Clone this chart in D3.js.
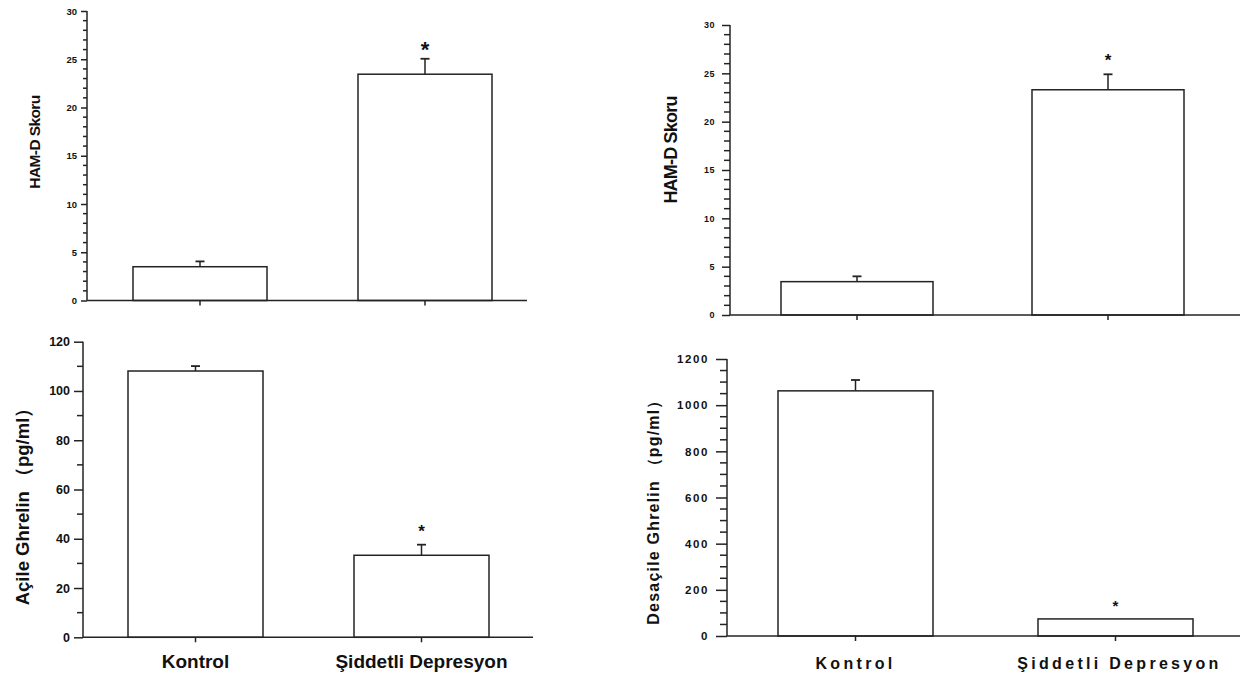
<!DOCTYPE html>
<html>
<head>
<meta charset="utf-8">
<script src="https://cdn.jsdelivr.net/npm/d3@7"></script>
<style>
  html, body { margin: 0; padding: 0; background: #fff; }
  svg { display: block; }
</style>
</head>
<body>
<svg id="chart" width="1244" height="679"></svg>
<script>
// ---------------- DATA ----------------
const categories = ["Kontrol", "Şiddetli Depresyon"];
const significance = ["", "*"];

const hamdLeftValues = [3.5, 23.45];
const hamdLeftErrors = [0.55, 1.6];

const hamdRightValues = [3.45, 23.3];
const hamdRightErrors = [0.55, 1.6];

const acileGhrelinValues = [108.1, 33.3];
const acileGhrelinErrors = [2.0, 4.3];

const desacileGhrelinValues = [1062, 74];
const desacileGhrelinErrors = [47, 0];

const hamdTicks = [0, 5, 10, 15, 20, 25, 30];
const acileTicks = [0, 20, 40, 60, 80, 100, 120];
const desacileTicks = [0, 200, 400, 600, 800, 1000, 1200];

const hamdLabel = "HAM-D Skoru";
const acileLabel = "Açile Ghrelin （pg/ml）";
const desacileLabel = "Desaçile Ghrelin （pg/ml）";

// ---------------- DRAW ----------------
const svg = d3.select("#chart");
const INK = "#232323";
const FONT = "'Liberation Sans', Arial, Helvetica, sans-serif";

function panel(cfg) {
  const g = svg.append("g");
  const yMax = cfg.ticks[cfg.ticks.length - 1];
  const y = d3.scaleLinear().domain([0, yMax]).range([cfg.y0, cfg.yTop]);
  const L = cfg.barEnd - cfg.barStart;
  const r = cfg.barW / L;
  const x = d3.scaleBand().domain(categories).range([cfg.barStart, cfg.barEnd])
    .paddingInner((1 - 2 * r) / (1 - r)).paddingOuter(0);

  // minor ticks (drawn from the scale)
  const nMinor = Math.round(yMax / cfg.minorStep);
  const minor = d3.range(0, nMinor + 1).map(k => k * cfg.minorStep)
    .filter(v => cfg.ticks.indexOf(v) < 0);
  const minorG = g.append("g").attr("class", "minor-ticks");
  minor.forEach(v => {
    minorG.append("path")
      .attr("d", `M${cfg.x0 - cfg.minorLen},${y(v)}H${cfg.x0}`)
      .attr("fill", "none")
      .attr("stroke", INK).attr("stroke-width", 1.5);
  });

  // major ticks + labels
  g.append("g").attr("transform", `translate(${cfg.x0},0)`)
    .call(d3.axisLeft(y).tickValues(cfg.ticks).tickSize(cfg.majorLen).tickPadding(cfg.tickPad).tickFormat(d3.format("d")))
    .call(s => s.select(".domain").remove())
    .call(s => s.selectAll("line").attr("stroke", INK).attr("stroke-width", 1.5))
    .call(s => s.selectAll("text").attr("fill", "#111").attr("font-family", FONT)
      .attr("font-weight", "bold").attr("font-size", cfg.tickFont)
      .style("letter-spacing", cfg.tickSpacing + "px"));

  // y axis line
  g.append("line").attr("x1", cfg.x0).attr("x2", cfg.x0)
    .attr("y1", y(yMax)).attr("y2", cfg.y0)
    .attr("stroke", INK).attr("stroke-width", 1.5);

  // x axis ticks
  g.append("g").attr("transform", `translate(0,${cfg.y0})`)
    .call(d3.axisBottom(x).tickSize(5).tickFormat(() => ""))
    .call(s => s.select(".domain").remove())
    .call(s => s.selectAll("line").attr("stroke", INK).attr("stroke-width", 1.5));

  // bars
  g.selectAll("rect.bar").data(cfg.values).join("rect")
    .attr("class", "bar")
    .attr("x", (d, i) => x(categories[i]))
    .attr("width", x.bandwidth())
    .attr("y", d => y(d))
    .attr("height", d => cfg.y0 - y(d))
    .attr("fill", "#fff").attr("stroke", INK).attr("stroke-width", 1.5);

  // error bars
  const cx = i => x(categories[i]) + x.bandwidth() / 2;
  cfg.values.forEach((v, i) => {
    const e = cfg.errors[i];
    if (!e) return;
    g.append("line").attr("x1", cx(i)).attr("x2", cx(i))
      .attr("y1", y(v)).attr("y2", y(v + e)).attr("stroke", INK).attr("stroke-width", 1.5);
    g.append("line").attr("x1", cx(i) - 4.5).attr("x2", cx(i) + 4.5)
      .attr("y1", y(v + e)).attr("y2", y(v + e)).attr("stroke", INK).attr("stroke-width", 1.8);
  });

  // significance stars
  cfg.values.forEach((v, i) => {
    if (!significance[i]) return;
    g.append("text").attr("x", cx(i)).attr("y", y(v + (cfg.errors[i] || 0)) - cfg.starGap)
      .attr("text-anchor", "middle").attr("font-family", FONT).attr("font-weight", "bold")
      .attr("font-size", cfg.starFont).attr("fill", "#111").text(significance[i]);
  });

  // x axis line
  g.append("line").attr("x1", cfg.x0).attr("x2", cfg.x1)
    .attr("y1", cfg.y0).attr("y2", cfg.y0)
    .attr("stroke", INK).attr("stroke-width", 1.5);

  // category labels
  if (cfg.showCats) {
    categories.forEach((c, i) => {
      g.append("text").attr("x", cx(i) + cfg.catShift * i).attr("y", cfg.y0 + cfg.catDy)
        .attr("text-anchor", "middle").attr("font-family", FONT).attr("font-weight", "bold")
        .attr("font-size", cfg.catFont).attr("fill", "#111")
        .style("letter-spacing", cfg.catSpacing + "px").text(c);
    });
  }

  // y label
  g.append("text")
    .attr("transform", `translate(${cfg.labelX},${cfg.labelY}) rotate(-90)`)
    .attr("text-anchor", "middle").attr("font-family", FONT).attr("font-weight", "bold")
    .attr("font-size", cfg.labelFont).attr("fill", "#111")
    .style("letter-spacing", cfg.labelSpacing + "px")
    .text(cfg.label);
}

panel({
  values: hamdLeftValues, errors: hamdLeftErrors, ticks: hamdTicks, minorStep: 1,
  x0: 87, x1: 527, yTop: 11, y0: 300.5, barStart: 133, barEnd: 492, barW: 134,
  majorLen: 6, minorLen: 4, tickPad: 4, tickFont: 9.5, tickSpacing: 0,
  starFont: 22, starGap: 2, showCats: false,
  label: hamdLabel, labelX: 40, labelY: 142, labelFont: 15.5, labelSpacing: -0.6
});

panel({
  values: hamdRightValues, errors: hamdRightErrors, ticks: hamdTicks, minorStep: 1,
  x0: 730, x1: 1240, yTop: 25, y0: 315, barStart: 781, barEnd: 1184, barW: 152,
  majorLen: 8, minorLen: 6, tickPad: 7, tickFont: 9, tickSpacing: 0.5,
  starFont: 17, starGap: 8, showCats: false,
  label: hamdLabel, labelX: 677, labelY: 150, labelFont: 18, labelSpacing: -0.8
});

panel({
  values: acileGhrelinValues, errors: acileGhrelinErrors, ticks: acileTicks, minorStep: 10,
  x0: 83, x1: 533, yTop: 341.7, y0: 637.3, barStart: 128, barEnd: 489, barW: 135,
  majorLen: 9, minorLen: 6, tickPad: 4, tickFont: 12.5, tickSpacing: 0,
  starFont: 17, starGap: 8, showCats: true, catFont: 19, catDy: 31, catSpacing: 0, catShift: 0,
  label: acileLabel, labelX: 29, labelY: 502, labelFont: 18.5, labelSpacing: 0
});

panel({
  values: desacileGhrelinValues, errors: desacileGhrelinErrors, ticks: desacileTicks, minorStep: 50,
  x0: 727, x1: 1240, yTop: 359, y0: 636, barStart: 778, barEnd: 1193, barW: 155,
  majorLen: 11, minorLen: 7, tickPad: 7, tickFont: 11.5, tickSpacing: 1.6,
  starFont: 15, starGap: 8, showCats: true, catFont: 16, catDy: 33, catSpacing: 3.3, catShift: 4,
  label: desacileLabel, labelX: 659, labelY: 508, labelFont: 16, labelSpacing: 1.2
});
</script>
</body>
</html>
